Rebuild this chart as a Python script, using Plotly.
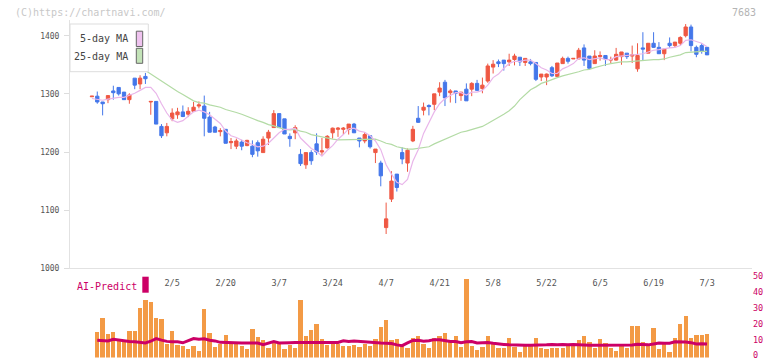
import plotly.graph_objects as go

# ---------------- data ----------------
idx = list(range(116))
date_pos = [15, 25, 35, 45, 55, 65, 75, 85, 95, 105, 115]
date_labels = ["2/5", "2/20", "3/7", "3/24", "4/7", "4/21", "5/8", "5/22", "6/5", "6/19", "7/3"]

opens = [1295,1296,1286,1290,1305,1311,1303,1290,1327,1317,1330,1286,1287,1244,1233,1257,1264,1269,1265,1270,
         1279,1279,1260,1243,1235,1239,1216,1210,1217,1211,1210,1216,1199,1224,1242,1266,1257,1227,1233,1196,
         1178,1199,1214,1200,1207,1233,1239,1239,1239,1248,1224,1219,1228,1199,1181,1070,1119,1162,1199,1181,
         1219,1258,1272,1280,1282,1303,1320,1302,1305,1297,1308,1308,1318,1309,1322,1346,1355,1358,1355,1359,
         1363,1354,1355,1354,1329,1329,1345,1330,1352,1361,1360,1360,1379,1365,1352,1364,1366,1358,1358,1364,
         1370,1365,1343,1379,1370,1387,1380,1369,1387,1383,1387,1400,1415,1380,1383,1380]
highs = [1296,1304,1286,1298,1314,1311,1303,1301,1327,1332,1336,1287,1287,1248,1250,1275,1276,1280,1277,1286,
         1287,1297,1269,1245,1241,1239,1224,1223,1221,1221,1220,1220,1227,1238,1272,1266,1257,1232,1246,1205,
         1199,1203,1232,1224,1229,1242,1243,1243,1248,1250,1224,1234,1228,1205,1185,1113,1167,1162,1208,1206,
         1245,1279,1285,1282,1300,1320,1324,1308,1305,1303,1318,1320,1324,1328,1352,1358,1359,1358,1369,1369,
         1363,1361,1360,1354,1334,1335,1348,1353,1364,1364,1361,1379,1385,1365,1375,1373,1366,1364,1379,1372,
         1370,1383,1387,1406,1387,1406,1389,1377,1397,1389,1399,1420,1419,1383,1387,1380]
lows = [1295,1283,1263,1284,1290,1297,1290,1283,1308,1308,1317,1264,1248,1224,1227,1253,1257,1260,1260,1270,
        1275,1227,1234,1234,1227,1215,1205,1205,1203,1210,1191,1192,1199,1212,1242,1242,1231,1209,1222,1176,
        1171,1178,1195,1195,1206,1223,1226,1230,1230,1233,1208,1215,1206,1181,1141,1059,1114,1132,1179,1166,
        1217,1250,1263,1263,1272,1296,1279,1285,1284,1288,1288,1296,1305,1301,1319,1335,1346,1340,1348,1349,
        1348,1348,1349,1322,1322,1315,1329,1330,1352,1352,1360,1360,1348,1341,1352,1357,1348,1353,1357,1350,
        1360,1353,1338,1358,1370,1379,1369,1358,1379,1380,1384,1397,1373,1363,1369,1367]
closes = [1296,1286,1283,1297,1302,1300,1290,1298,1315,1327,1326,1287,1248,1228,1244,1267,1269,1261,1270,1277,
          1281,1258,1234,1234,1237,1215,1218,1219,1210,1220,1196,1202,1222,1234,1266,1242,1231,1223,1242,1180,
          1199,1185,1200,1202,1227,1241,1241,1241,1248,1233,1219,1230,1209,1205,1159,1085,1150,1139,1188,1203,
          1239,1251,1277,1278,1300,1310,1293,1305,1301,1303,1288,1318,1306,1315,1348,1351,1352,1352,1358,1365,
          1355,1361,1352,1325,1334,1334,1331,1353,1361,1356,1361,1375,1358,1344,1365,1366,1360,1359,1368,1372,
          1364,1367,1366,1377,1387,1380,1369,1377,1383,1389,1397,1415,1383,1368,1373,1367]

ma5 = [1292,1290,1289,1291,1293,1294,1294,1297,1301,1306,1311,1311,1301,1283,1267,1255,1251,1254,1262,1269,
       1272,1269,1264,1257,1249,1236,1228,1225,1220,1216,1213,1209,1210,1215,1224,1233,1239,1239,1241,1224,
       1215,1206,1201,1193,1203,1211,1222,1230,1240,1241,1236,1234,1228,1219,1204,1178,1162,1148,1144,1153,
       1184,1204,1232,1250,1269,1283,1292,1297,1302,1302,1298,1303,1303,1306,1315,1328,1334,1344,1352,1356,
       1356,1358,1358,1352,1345,1341,1335,1335,1343,1347,1352,1361,1362,1359,1361,1362,1359,1359,1364,1365,
       1365,1366,1367,1369,1372,1375,1376,1378,1379,1380,1383,1392,1393,1390,1387,1381]
ma25 = [1372,1369,1366,1363,1360,1357,1353,1349,1346,1343,1340,1334,1328,1321,1315,1310,1304,1299,1294,1288,
        1285,1284,1281,1279,1277,1273,1271,1268,1265,1261,1257,1254,1251,1247,1245,1242,1239,1238,1239,1236,
        1234,1230,1228,1225,1223,1222,1221,1221,1222,1222,1222,1222,1222,1222,1219,1215,1213,1209,1207,1205,
        1205,1206,1208,1209,1214,1218,1223,1227,1231,1234,1236,1239,1242,1244,1249,1254,1259,1265,1271,1279,
        1290,1298,1307,1312,1318,1321,1325,1328,1331,1333,1335,1338,1341,1342,1345,1348,1350,1352,1354,1355,
        1355,1356,1356,1357,1358,1359,1359,1360,1363,1365,1367,1371,1372,1372,1373,1373]

# lower panel (first session has no bar / prediction)
volume = [None,16.2,24.8,14.7,16.0,10.5,10.9,16.6,16.6,31.1,36.1,34.9,24.8,24.2,8.4,16.6,7.8,7.0,5.3,7.4,
          4.2,30.4,15.8,6.8,8.4,14.1,9.0,9.0,7.0,5.3,17.9,12.8,10.9,5.9,9.9,9.0,5.3,7.8,5.9,36.7,
          13.6,17.2,21.0,11.6,7.8,9.0,8.4,7.4,7.0,7.8,6.8,8.4,7.0,11.6,19.3,23.5,10.9,11.6,7.8,5.9,
          12.2,13.6,8.4,5.9,12.2,13.6,15.3,10.9,13.6,6.6,50.0,7.3,4.8,6.8,13.6,8.4,5.9,5.9,12.2,6.8,
          3.6,7.3,7.3,12.2,5.9,5.3,5.9,5.9,6.3,7.3,8.4,10.9,13.6,9.5,5.9,11.6,9.0,5.9,4.2,7.3,
          5.9,20.0,20.0,9.9,7.8,18.6,5.3,9.0,3.6,12.2,21.0,26.2,12.2,14.1,14.0,14.7]
ai_predict = [None,10.9,10.7,10.5,11.5,11.0,10.5,10.1,10.0,9.6,9.2,10.3,12.0,11.0,10.2,10.0,9.9,9.3,10.5,12.0,
              11.6,11.8,10.9,10.5,9.6,9.4,9.2,9.1,9.1,9.1,9.1,9.1,8.1,9.2,10.1,9.2,9.1,9.4,9.5,9.5,
              9.5,9.5,9.5,9.5,9.5,9.5,9.5,10.6,10.1,10.4,10.1,9.6,9.5,9.3,9.1,9.0,8.8,8.0,7.5,9.2,
              10.8,10.9,10.3,10.6,11.3,11.2,10.6,10.1,10.1,9.3,10.0,10.1,9.2,9.3,9.5,9.0,8.5,8.3,8.0,7.8,
              7.8,7.8,7.8,7.8,8.0,8.0,8.3,8.0,8.2,8.0,8.3,8.0,7.8,7.8,7.8,7.8,7.8,7.8,7.8,7.8,
              7.8,7.9,8.4,8.0,8.0,8.6,9.1,9.0,9.0,10.0,10.1,9.8,9.4,8.5,8.7,8.5]

y_ticks = [1000, 1100, 1200, 1300, 1400]
ai_ticks = [0, 10, 20, 30, 40, 50]

# ---------------- styling ----------------
RED = "#ef5843"
BLUE = "#4477ea"
ORANGE = "#f39a45"
MAGENTA = "#cc0066"
PINK = "#e9b6ea"
GREEN = "#b3dba5"
FONT = "DejaVu Sans Mono"

W, H = 772, 361
L, R = 70, 20
PW = W - L - R
XR = [-4.1, 123.4]


def px(xp):
    return (xp - L) / PW


def py(yp):
    return 1 - yp / H


fig = go.Figure()

fig.add_trace(go.Candlestick(
    x=idx, open=opens, high=highs, low=lows, close=closes,
    increasing=dict(line=dict(color=RED, width=1), fillcolor=RED),
    decreasing=dict(line=dict(color=BLUE, width=1), fillcolor=BLUE),
    whiskerwidth=0, showlegend=False, hoverinfo="skip",
    xaxis="x", yaxis="y"))
fig.add_trace(go.Scatter(x=idx, y=ma25, mode="lines", line=dict(color=GREEN, width=1.2),
                         showlegend=False, hoverinfo="skip", xaxis="x", yaxis="y"))
fig.add_trace(go.Scatter(x=idx, y=ma5, mode="lines", line=dict(color=PINK, width=1.2),
                         showlegend=False, hoverinfo="skip", xaxis="x", yaxis="y"))

fig.add_trace(go.Bar(x=idx, y=volume, marker=dict(color=ORANGE, line=dict(width=0)), width=0.8,
                     showlegend=False, hoverinfo="skip", xaxis="x2", yaxis="y2"))
fig.add_trace(go.Scatter(x=idx, y=ai_predict, mode="lines", line=dict(color=MAGENTA, width=3),
                         showlegend=False, hoverinfo="skip", xaxis="x2", yaxis="y2"))

grid_ticks = [XR[0] + k * (XR[1] - XR[0]) / 11 for k in range(12)]

ytop = 20
y_top_val = 1000 + (268.3 - ytop) / 0.5815

fig.update_layout(
    width=W, height=H,
    margin=dict(l=L, r=R, t=0, b=0, autoexpand=False),
    paper_bgcolor="white", plot_bgcolor="white",
    font=dict(family=FONT, color="#555555"),
    showlegend=False,
    bargap=0,
    boxgap=0.12,
    hovermode=False,
    xaxis=dict(domain=[0, 1], range=XR, anchor="y", tickmode="array", tickvals=date_pos,
               ticktext=date_labels, ticks="", showline=True, linecolor="#e2e2e2", linewidth=1,
               showgrid=False, zeroline=False, tickfont=dict(size=8.5, color="#555555", family=FONT),
               ticklabelstandoff=6, rangeslider=dict(visible=False), automargin=False),
    xaxis3=dict(overlaying="x", range=XR, anchor="y", tickmode="array", tickvals=grid_ticks,
                ticks="outside", ticklen=3, tickwidth=1, tickcolor="#dddddd", showticklabels=False,
                showline=False, showgrid=False, zeroline=False, side="bottom", automargin=False),
    yaxis=dict(domain=[py(268.3), py(ytop)], range=[1000, y_top_val], anchor="x",
               tickmode="array", tickvals=y_ticks, ticks="outside", ticklen=5, tickcolor="#dddddd",
               showline=True, linecolor="#e2e2e2", linewidth=1, showgrid=False, zeroline=False,
               tickfont=dict(size=8, color="#555555", family=FONT), automargin=False,
               ticklabelstandoff=3),
    xaxis2=dict(domain=[0, 1], range=XR, anchor="y2", visible=False,
                rangeslider=dict(visible=False)),
    yaxis2=dict(domain=[py(357.5), py(278.5)], range=[0, 50], anchor="x2", side="right",
                tickmode="array", tickvals=ai_ticks, ticks="", showline=False, showgrid=False,
                zeroline=False, tickfont=dict(size=8.5, color=MAGENTA, family=FONT), automargin=False,
                ticklabeloverflow="allow", ticklabelshift=-2),
)

shapes = [
    # legend box
    dict(type="rect", xref="paper", yref="paper", x0=px(70), x1=px(148.3), y0=py(71.7), y1=py(24),
         fillcolor="white", line=dict(color="#dddddd", width=1), layer="above"),
    dict(type="rect", xref="paper", yref="paper", x0=px(136.3), x1=px(142.7), y0=py(46.5), y1=py(31.2),
         fillcolor="#efc3ef", line=dict(color="#666666", width=1), layer="above"),
    dict(type="rect", xref="paper", yref="paper", x0=px(136.3), x1=px(142.7), y0=py(63.3), y1=py(48.3),
         fillcolor="#c3e3b8", line=dict(color="#666666", width=1), layer="above"),
    # AI-Predict swatch
    dict(type="rect", xref="paper", yref="paper", x0=px(142.3), x1=px(148.7), y0=py(292.7), y1=py(276.7),
         fillcolor=MAGENTA, line=dict(width=0), layer="above"),
]
fig.update_layout(shapes=shapes)

annotations = [
    dict(text="5-day MA", xref="paper", yref="paper", x=px(130), y=py(39), xanchor="right",
         yanchor="middle", showarrow=False, font=dict(size=10, color="#444444", family=FONT)),
    dict(text="25-day MA", xref="paper", yref="paper", x=px(130), y=py(56.5), xanchor="right",
         yanchor="middle", showarrow=False, font=dict(size=10, color="#444444", family=FONT)),
    dict(text="AI-Predict", xref="paper", yref="paper", x=px(75), y=py(286), xanchor="left",
         yanchor="middle", showarrow=False, font=dict(size=10, color=MAGENTA, family=FONT)),
    dict(text="(C)https://chartnavi.com/", xref="paper", yref="paper", x=px(13), y=py(12.3),
         xanchor="left", yanchor="middle", showarrow=False, font=dict(size=10, color="#c8c8c8", family=FONT)),
    dict(text="7683", xref="paper", yref="paper", x=px(758), y=py(12), xanchor="right",
         yanchor="middle", showarrow=False, font=dict(size=10, color="#b4b4b4", family=FONT)),
]
fig.update_layout(annotations=annotations)

fig.write_html("out.html",
               config={"displayModeBar": False, "staticPlot": True},
               post_script="document.body.style.margin='0';document.body.style.padding='0';")
